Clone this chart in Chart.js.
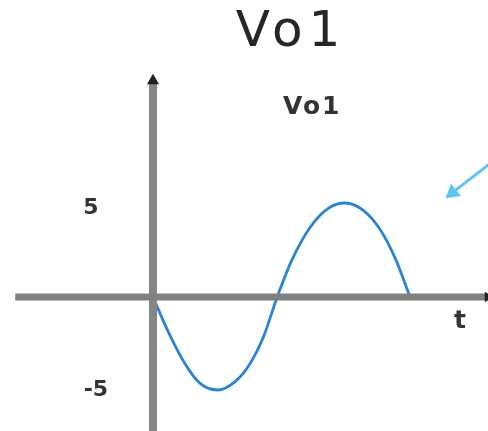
<!DOCTYPE html>
<html>
<head>
<meta charset="utf-8">
<script src="https://cdn.jsdelivr.net/npm/chart.js@4/dist/chart.umd.min.js"></script>
<style>
html,body{margin:0;padding:0;background:#fff;}
#c{display:block;}
</style>
</head>
<body>
<canvas id="c" width="488" height="431"></canvas>
<script>
// time values (phase units) and Vo1 values
const tVals = [0, 22, 44, 66, 91, 115, 135, 155, 174, 195, 220, 245, 269, 295, 318, 340, 360];
const vo1Vals = [0, -1.9, -3.5, -4.6, -4.95, -4.5, -3.6, -2.1, 0, 2.0, 3.7, 4.7, 5.0, 4.6, 3.6, 2.0, 0];

// axis extents (data units)
const xAxisT = [-193, 469];
const yAxisV = [-8, 11.5];

// pointer arrow (tail -> head) in data units
const arrowT = [472, 419.5];
const arrowV = [7.1, 5.55];

// text labels
const labelTexts = ['5', '-5', 't', 'Vo1'];
const labelT = [-87, -80, 430, 223];
const labelV = [4.7, -4.95, -1.33, 10.1];

const titleText = 'Vo1';

function pts(xs, ys){ return xs.map((x,i)=>({x:x, y:ys[i]})); }

const textPlugin = {
  id: 'texts',
  afterDatasetsDraw(chart){
    const ctx = chart.ctx, sx = chart.scales.x, sy = chart.scales.y;
    ctx.save();
    ctx.textAlign = 'center';
    ctx.textBaseline = 'middle';
    ctx.fillStyle = '#262626';
    ctx.font = '50px "DejaVu Sans"';
    ctx.letterSpacing = '6px';
    ctx.fillText(titleText, 291, 33);
    const fonts = ['bold 22px "DejaVu Sans"', 'bold 22px "DejaVu Sans"', 'bold 25px "DejaVu Sans"', 'bold 25px "DejaVu Sans"'];
    const spacing = ['0px', '0px', '0px', '2px'];
    labelTexts.forEach((t,i)=>{
      ctx.font = fonts[i];
      ctx.letterSpacing = spacing[i];
      ctx.fillStyle = '#333';
      ctx.fillText(t, sx.getPixelForValue(labelT[i]), sy.getPixelForValue(labelV[i]));
    });
    ctx.restore();
  }
};

new Chart(document.getElementById('c'), {
  type: 'scatter',
  data: {
    datasets: [
      {
        label: 'x axis',
        data: pts(xAxisT, [0, 0]),
        showLine: true,
        borderColor: '#808080',
        borderWidth: 7,
        pointRadius: [0, 6],
        pointStyle: 'triangle',
        rotation: 90,
        pointBackgroundColor: '#222',
        pointBorderWidth: 0
      },
      {
        label: 'y axis',
        data: pts([0, 0], yAxisV),
        showLine: true,
        borderColor: '#858585',
        borderWidth: 8,
        pointRadius: [0, 7],
        pointStyle: 'triangle',
        rotation: 0,
        pointBackgroundColor: '#222',
        pointBorderWidth: 0
      },
      {
        label: 'Vo1',
        data: pts(tVals, vo1Vals),
        showLine: true,
        borderColor: '#2a84d2',
        borderWidth: 2.8,
        pointRadius: 0,
        cubicInterpolationMode: 'monotone'
      },
      {
        label: 'pointer',
        data: pts(arrowT, arrowV),
        showLine: true,
        borderColor: '#5bc6ee',
        borderWidth: 3,
        pointRadius: [0, 9],
        pointStyle: 'triangle',
        rotation: 231.7,
        pointBackgroundColor: '#5bc6ee',
        pointBorderWidth: 0
      }
    ]
  },
  options: {
    responsive: false,
    animation: false,
    layout: { padding: 0, autoPadding: false },
    plugins: { legend: { display: false }, tooltip: { enabled: false }, title: { display: false } },
    scales: {
      x: { type: 'linear', display: false, min: -214.3, max: 469.3 },
      y: { type: 'linear', display: false, min: -7.13, max: 15.8 }
    }
  },
  plugins: [textPlugin]
});
</script>
</body>
</html>
